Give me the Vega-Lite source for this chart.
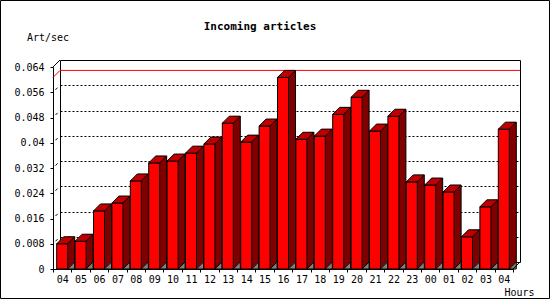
{
  "$schema": "https://vega.github.io/schema/vega-lite/v6.json",
  "width": 460,
  "height": 202,
  "autosize": "none",
  "padding": {"left": 60, "top": 60, "right": 30, "bottom": 38},
  "background": "white",
  "config": {
    "view": {"stroke": "black", "strokeWidth": 1},
    "font": "DejaVu Sans Mono",
    "axis": {
      "domainColor": "black", "tickColor": "black", "labelColor": "black",
      "labelFont": "DejaVu Sans Mono", "labelFontSize": 10,
      "titleFont": "DejaVu Sans Mono", "titleFontSize": 10, "titleFontWeight": "normal", "titleColor": "black",
      "domainWidth": 1, "tickWidth": 1
    }
  },
  "title": {
    "text": "Incoming articles", "font": "DejaVu Sans Mono", "fontSize": 11, "fontWeight": "bold",
    "color": "black", "anchor": "middle", "frame": "group", "dx": -30, "offset": 0, "dy": 41, "baseline": "alphabetic"
  },
  "datasets": {
    "rates": [
      {"time": "2024-01-01 04:00", "rate": 0.0080},
      {"time": "2024-01-01 05:00", "rate": 0.0088},
      {"time": "2024-01-01 06:00", "rate": 0.0184},
      {"time": "2024-01-01 07:00", "rate": 0.0209},
      {"time": "2024-01-01 08:00", "rate": 0.0279},
      {"time": "2024-01-01 09:00", "rate": 0.0336},
      {"time": "2024-01-01 10:00", "rate": 0.0342},
      {"time": "2024-01-01 11:00", "rate": 0.0367},
      {"time": "2024-01-01 12:00", "rate": 0.0396},
      {"time": "2024-01-01 13:00", "rate": 0.0462},
      {"time": "2024-01-01 14:00", "rate": 0.0402},
      {"time": "2024-01-01 15:00", "rate": 0.0453},
      {"time": "2024-01-01 16:00", "rate": 0.0607},
      {"time": "2024-01-01 17:00", "rate": 0.0411},
      {"time": "2024-01-01 18:00", "rate": 0.0421},
      {"time": "2024-01-01 19:00", "rate": 0.0490},
      {"time": "2024-01-01 20:00", "rate": 0.0544},
      {"time": "2024-01-01 21:00", "rate": 0.0437},
      {"time": "2024-01-01 22:00", "rate": 0.0484},
      {"time": "2024-01-01 23:00", "rate": 0.0276},
      {"time": "2024-01-02 00:00", "rate": 0.0266},
      {"time": "2024-01-02 01:00", "rate": 0.0244},
      {"time": "2024-01-02 02:00", "rate": 0.0102},
      {"time": "2024-01-02 03:00", "rate": 0.0197},
      {"time": "2024-01-02 04:00", "rate": 0.0443}
    ],
    "gridlevels": [
      {"level": 0.008}, {"level": 0.016}, {"level": 0.024}, {"level": 0.032},
      {"level": 0.04}, {"level": 0.048}, {"level": 0.056}
    ]
  },
  "data": {"name": "rates"},
  "layer": [
    {
      "data": {"values": [{}]},
      "mark": {"type": "rect", "fill": "transparent", "stroke": "black", "strokeWidth": 1},
      "encoding": {
        "x": {"value": -59.5}, "x2": {"value": 489.5},
        "y": {"value": -59.5}, "y2": {"value": 238.5}
      }
    },
    {
      "mark": {"type": "rule", "color": "red", "strokeWidth": 1},
      "encoding": {
        "y": {
          "aggregate": "max", "field": "rate", "type": "quantitative",
          "scale": {"domain": [0, 0.064], "nice": false, "zero": true},
          "axis": {
            "orient": "left", "grid": true, "gridColor": "black", "gridDash": [2, 2], "gridOpacity": 1, "gridWidth": 1,
            "labels": false, "ticks": false, "domain": false, "title": null,
            "values": [0.008, 0.016, 0.024, 0.032, 0.04, 0.048, 0.056]
          }
        }
      }
    },
    {
      "data": {"name": "gridlevels"},
      "mark": {"type": "rule", "color": "black", "strokeWidth": 1, "strokeDash": [0, 3.5, 3, 10], "xOffset": -7, "yOffset": 7},
      "encoding": {
        "x": {"value": 0}, "x2": {"value": 0},
        "y": {"field": "level", "type": "quantitative", "axis": null},
        "y2": {"field": "level"}
      }
    },
    {
      "mark": {"type": "bar", "width": 7, "xOffset": 2, "fill": "#800000", "strokeWidth": 0},
      "encoding": {
        "x": {
          "field": "time", "type": "ordinal",
          "scale": {"type": "band", "paddingInner": 0, "paddingOuter": 0},
          "axis": {
            "orient": "bottom", "offset": 7, "position": -7, "tickBand": "extent",
            "labelExpr": "substring(datum.label, 11, 13)", "labelAngle": 0, "labelOverlap": false,
            "tickSize": 3, "labelPadding": 2, "grid": false,
            "title": "Hours", "titleX": 481, "titleY": 26, "titleAlign": "right", "titleBaseline": "alphabetic"
          }
        },
        "y": {"field": "rate", "type": "quantitative", "axis": null},
        "y2": {"datum": 0}
      }
    },
    {
      "mark": {"type": "rule", "xOffset": 5.5, "color": "black", "strokeWidth": 1},
      "encoding": {
        "x": {"field": "time", "type": "ordinal"},
        "y": {"field": "rate", "type": "quantitative", "axis": null},
        "y2": {"datum": 0}
      }
    },
    {
      "mark": {"type": "point", "shape": "M-1.5,0L-1.5,7L5.5,0Z", "size": 4, "filled": true, "fill": "#800000", "strokeWidth": 0, "opacity": 1},
      "encoding": {
        "x": {"field": "time", "type": "ordinal"},
        "y": {"datum": 0, "type": "quantitative", "axis": null}
      }
    },
    {
      "mark": {"type": "point", "shape": "M-1.5,7L5.5,0L5.5,7Z", "size": 4, "filled": true, "fill": "#808080", "stroke": "black", "strokeWidth": 1, "opacity": 1},
      "encoding": {
        "x": {"field": "time", "type": "ordinal"},
        "y": {"datum": 0, "type": "quantitative", "axis": null}
      }
    },
    {
      "mark": {"type": "bar", "width": 11, "xOffset": -7, "yOffset": 7, "y2Offset": 7, "fill": "#ff0000", "stroke": "black", "strokeWidth": 1},
      "encoding": {
        "x": {"field": "time", "type": "ordinal"},
        "y": {
          "field": "rate", "type": "quantitative",
          "axis": {
            "orient": "left", "offset": 7, "position": 7, "grid": false,
            "values": [0, 0.008, 0.016, 0.024, 0.032, 0.04, 0.048, 0.056, 0.064],
            "format": ".3~f", "tickSize": 3, "labelPadding": 6,
            "title": "Art/sec", "titleAngle": 0, "titleX": -5.5, "titleY": -27, "titleAlign": "center", "titleBaseline": "alphabetic"
          }
        },
        "y2": {"datum": 0}
      }
    },
    {
      "mark": {"type": "point", "shape": "M-12.5,7L-5.5,0L5.5,0L-1.5,7Z", "size": 4, "filled": true, "fill": "#c00000", "stroke": "black", "strokeWidth": 1, "opacity": 1},
      "encoding": {
        "x": {"field": "time", "type": "ordinal"},
        "y": {"field": "rate", "type": "quantitative", "axis": null}
      }
    },
    {
      "mark": {"type": "rule", "color": "red", "strokeWidth": 1, "xOffset": -7, "yOffset": 7},
      "encoding": {
        "x": {"value": 0}, "x2": {"value": 0},
        "y": {"aggregate": "max", "field": "rate", "type": "quantitative", "axis": null},
        "y2": {"aggregate": "max", "field": "rate"}
      }
    },
    {
      "data": {"values": [{}]},
      "mark": {"type": "rule", "color": "black", "strokeWidth": 1},
      "encoding": {
        "x": {"value": -7}, "x2": {"value": 0},
        "y": {"value": 7}, "y2": {"value": 0}
      }
    },
    {
      "data": {"values": [{}]},
      "mark": {"type": "rule", "color": "black", "strokeWidth": 1},
      "encoding": {
        "x": {"value": 453}, "x2": {"value": 460},
        "y": {"value": 209}, "y2": {"value": 202}
      }
    }
  ],
  "resolve": {"axis": {"y": "independent"}}
}
